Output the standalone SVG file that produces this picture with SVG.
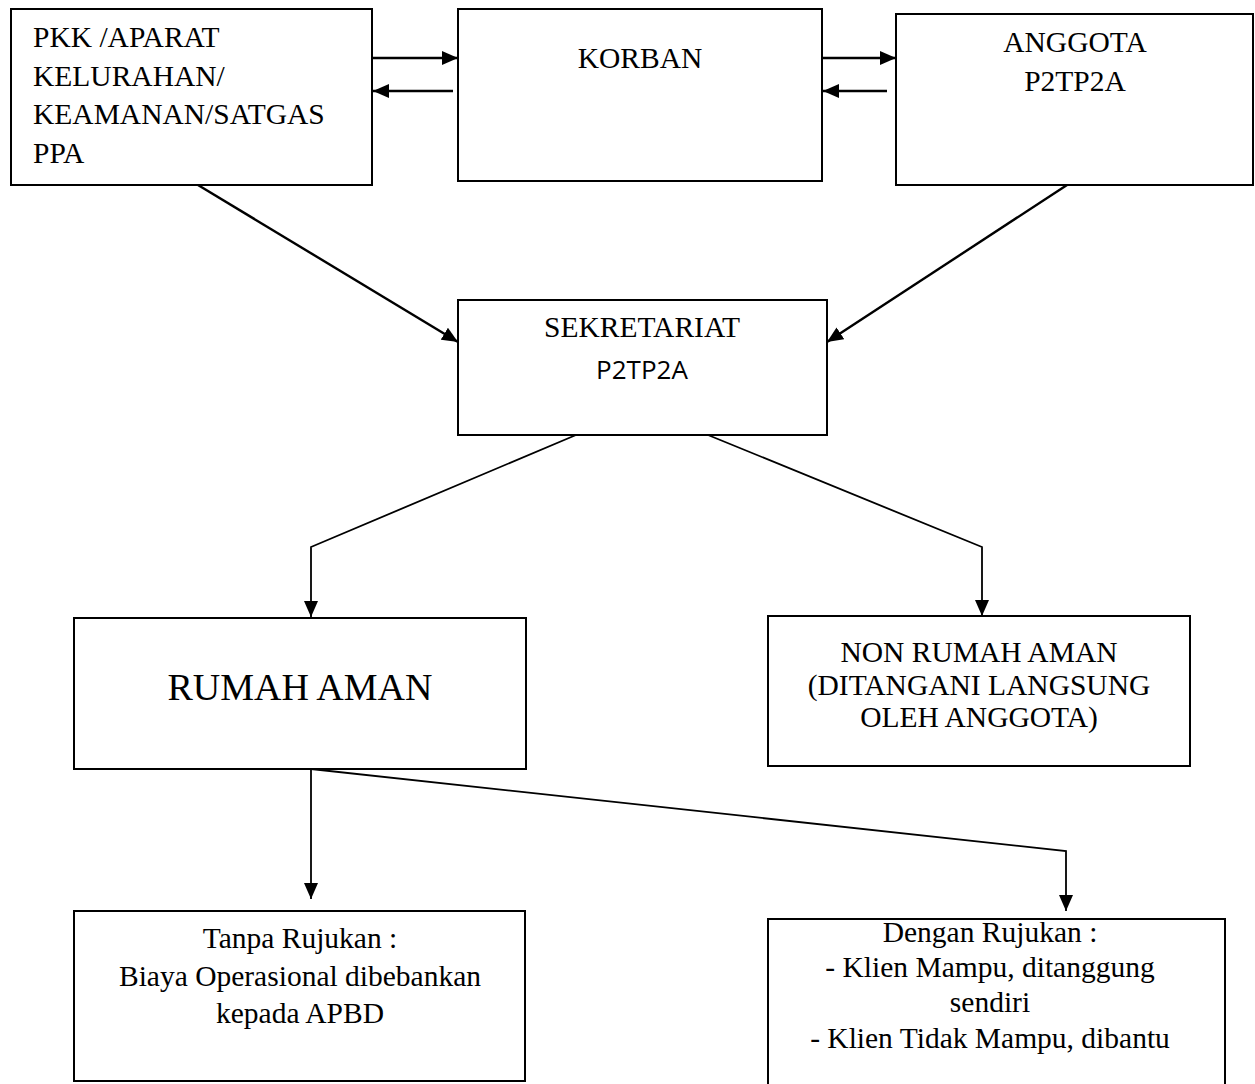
<svg xmlns="http://www.w3.org/2000/svg" width="1255" height="1084" viewBox="0 0 1255 1084">
<style>
.box{fill:#fff;stroke:#000;stroke-width:2}
.t{font-family:"Liberation Serif","Times New Roman",serif;font-size:29.5px;fill:#000}
.c{text-anchor:middle}
.s{font-family:"Open Sans","Noto Sans",sans-serif;font-size:26px;fill:#000;text-anchor:middle}
.ln{fill:none;stroke:#000;stroke-width:2.4}
.ln2{fill:none;stroke:#000;stroke-width:1.8}
</style>
<defs>
<marker id="ah" viewBox="0 0 16 14" refX="16" refY="7" markerWidth="16" markerHeight="14" markerUnits="userSpaceOnUse" orient="auto">
<path d="M0,0 L16,7 L0,14 z" fill="#000"/>
</marker>
</defs>
<rect width="1255" height="1084" fill="#fff"/>
<g id="connectors">
<line class="ln" x1="372" y1="58" x2="458" y2="58" marker-end="url(#ah)"/>
<line class="ln" x1="453" y1="91" x2="373" y2="91" marker-end="url(#ah)"/>
<line class="ln" x1="822" y1="58" x2="896" y2="58" marker-end="url(#ah)"/>
<line class="ln" x1="887" y1="91" x2="823" y2="91" marker-end="url(#ah)"/>
<line class="ln" x1="198" y1="185" x2="458" y2="342" marker-end="url(#ah)"/>
<line class="ln" x1="1067" y1="185" x2="827" y2="342" marker-end="url(#ah)"/>
<polyline class="ln2" points="576,435 311,547 311,617" marker-end="url(#ah)"/>
<polyline class="ln2" points="708,435 982,547 982,616" marker-end="url(#ah)"/>
<polyline class="ln2" points="311,769 311,899" marker-end="url(#ah)"/>
<polyline class="ln2" points="311,769 1066,851 1066,911" marker-end="url(#ah)"/>
</g>
<g id="pkk">
<rect class="box" x="11" y="9" width="361" height="176"/>
<text class="t" x="33" y="47">PKK /APARAT</text>
<text class="t" x="33" y="86">KELURAHAN/</text>
<text class="t" x="33" y="124">KEAMANAN/SATGAS</text>
<text class="t" x="33" y="163">PPA</text>
</g>
<g id="korban">
<rect class="box" x="458" y="9" width="364" height="172"/>
<text class="t c" x="640" y="68">KORBAN</text>
</g>
<g id="anggota">
<rect class="box" x="896" y="14" width="357" height="171"/>
<text class="t c" x="1075" y="52">ANGGOTA</text>
<text class="t c" x="1075" y="91">P2TP2A</text>
</g>
<g id="sekretariat">
<rect class="box" x="458" y="300" width="369" height="135"/>
<text class="t c" x="642" y="337">SEKRETARIAT</text>
<text class="s" x="642" y="379">P2TP2A</text>
</g>
<g id="rumah-aman">
<rect class="box" x="74" y="618" width="452" height="151"/>
<text class="t c" x="300" y="700" style="font-size:38px">RUMAH AMAN</text>
</g>
<g id="non-rumah-aman">
<rect class="box" x="768" y="616" width="422" height="150"/>
<text class="t c" x="979" y="662">NON RUMAH AMAN</text>
<text class="t c" x="979" y="695">(DITANGANI LANGSUNG</text>
<text class="t c" x="979" y="727">OLEH ANGGOTA)</text>
</g>
<g id="tanpa-rujukan">
<rect class="box" x="74" y="911" width="451" height="170"/>
<text class="t c" x="300" y="948">Tanpa Rujukan :</text>
<text class="t c" x="300" y="986">Biaya Operasional dibebankan</text>
<text class="t c" x="300" y="1023">kepada APBD</text>
</g>
<g id="dengan-rujukan">
<rect class="box" x="768" y="919" width="457" height="175"/>
<text class="t c" x="990" y="942">Dengan Rujukan :</text>
<text class="t c" x="990" y="977">- Klien Mampu, ditanggung</text>
<text class="t c" x="990" y="1012">sendiri</text>
<text class="t c" x="990" y="1048">- Klien Tidak Mampu, dibantu</text>
</g>
</svg>
